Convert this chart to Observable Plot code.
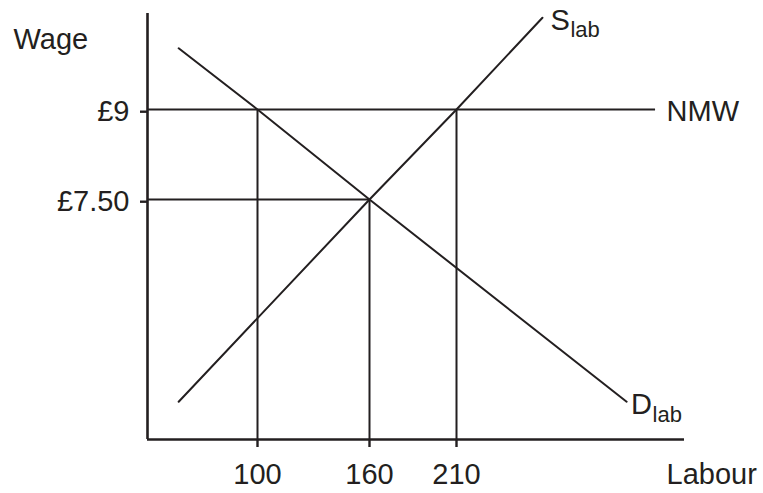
<!DOCTYPE html>
<html>
<head>
<meta charset="utf-8">
<script src="https://cdn.jsdelivr.net/npm/d3@7"></script>
<script src="https://cdn.jsdelivr.net/npm/@observablehq/plot@0.6"></script>
<style>
  html, body { margin: 0; padding: 0; background: #fff; }
  #chart svg { display: block; }
</style>
</head>
<body>
<div id="chart"></div>
<script>
// ---- data ----
const labourTicks = [100, 160, 210];
const wageTicks = [7.5, 9];
const wageTickLabels = ["£7.50", "£9"];

const supplyLabour = [57, 160, 210, 259];
const supplyWage = [4.13, 7.5, 9, 10.53];
const demandLabour = [57, 100, 160, 307];
const demandWage = [10.02, 9, 7.5, 4.13];

const nmwWage = 9;
const nmwEndLabour = 323.5;
const equilibriumLabour = 160;
const equilibriumWage = 7.5;

const labourDomain = [40, 100, 160, 210, 340];
const wageDomain = [3.5, 10.6];

// ---- derived tables ----
const ink = "#231f20";
const font = "'Liberation Sans', Arial, Helvetica, sans-serif";
const supply = supplyLabour.map((x, i) => ({x, y: supplyWage[i]}));
const demand = demandLabour.map((x, i) => ({x, y: demandWage[i]}));
const hGuides = [
  {y: nmwWage, x2: nmwEndLabour},
  {y: equilibriumWage, x2: equilibriumLabour}
];
const vGuides = [
  {x: labourTicks[0], y2: nmwWage},
  {x: equilibriumLabour, y2: equilibriumWage},
  {x: labourTicks[2], y2: nmwWage}
];
const x0 = labourDomain[0], x1 = labourDomain[labourDomain.length - 1];
const y0 = wageDomain[0], y1 = wageDomain[1];
const sEnd = supply[supply.length - 1];
const dEnd = demand[demand.length - 1];
const wageLabel = d3.scaleOrdinal(wageTicks, wageTickLabels);

const chart = Plot.plot({
  width: 763,
  height: 493,
  marginLeft: 147,
  marginRight: 79,
  marginTop: 13,
  marginBottom: 54,
  style: {fontFamily: font, background: "#fff", color: ink},
  x: {type: "linear", domain: labourDomain, range: [147, 257, 369, 456, 684]},
  y: {type: "linear", domain: wageDomain, range: [439, 13]},
  marks: [
    // guide lines
    Plot.ruleY(hGuides, {y: "y", x1: x0, x2: "x2", stroke: ink, strokeWidth: 2}),
    Plot.ruleX(vGuides, {x: "x", y1: y0, y2: "y2", stroke: ink, strokeWidth: 2}),
    // curves
    Plot.line(supply, {x: "x", y: "y", stroke: ink, strokeWidth: 2}),
    Plot.line(demand, {x: "x", y: "y", stroke: ink, strokeWidth: 2}),
    // axis lines
    Plot.ruleY([y0], {x1: x0, x2: x1, stroke: ink, strokeWidth: 2.6}),
    Plot.ruleX([x0], {y1: y0, y2: y1, stroke: ink, strokeWidth: 2.6}),
    // ticks + labels
    Plot.axisX(labourTicks, {
      tickSize: 8, tickPadding: 16, fontSize: 29, stroke: ink, fill: ink,
      strokeWidth: 2.4, label: null, tickFormat: d => String(d)
    }),
    Plot.axisY(wageTicks, {
      tickSize: 7, tickPadding: 11, fontSize: 29, stroke: ink, fill: ink,
      strokeWidth: 2.4, label: null, dy: 2.2, tickFormat: d => wageLabel(d)
    }),
    // axis titles
    Plot.text(["Wage"], {x: x0, y: y1, text: d => d, dx: -134, dy: 35,
      textAnchor: "start", lineAnchor: "bottom", fontSize: 29, fill: ink}),
    Plot.text(["Labour"], {x: x1, y: y0, text: d => d, dx: -18, dy: 44,
      textAnchor: "start", lineAnchor: "bottom", fontSize: 29, fill: ink}),
    // curve labels
    Plot.text(["NMW"], {x: nmwEndLabour, y: nmwWage, text: d => d, dx: 11, dy: 11,
      textAnchor: "start", lineAnchor: "bottom", fontSize: 29, fill: ink}),
    Plot.text(["S"], {x: sEnd.x, y: sEnd.y, text: d => d, dx: 8, dy: 12,
      textAnchor: "start", lineAnchor: "bottom", fontSize: 29, fill: ink}),
    Plot.text(["lab"], {x: sEnd.x, y: sEnd.y, text: d => d, dx: 28, dy: 19,
      textAnchor: "start", lineAnchor: "bottom", fontSize: 22, fill: ink}),
    Plot.text(["D"], {x: dEnd.x, y: dEnd.y, text: d => d, dx: 4.3, dy: 12,
      textAnchor: "start", lineAnchor: "bottom", fontSize: 29, fill: ink}),
    Plot.text(["lab"], {x: dEnd.x, y: dEnd.y, text: d => d, dx: 26, dy: 20.7,
      textAnchor: "start", lineAnchor: "bottom", fontSize: 22, fill: ink})
  ]
});
document.getElementById("chart").appendChild(chart);
</script>
</body>
</html>
